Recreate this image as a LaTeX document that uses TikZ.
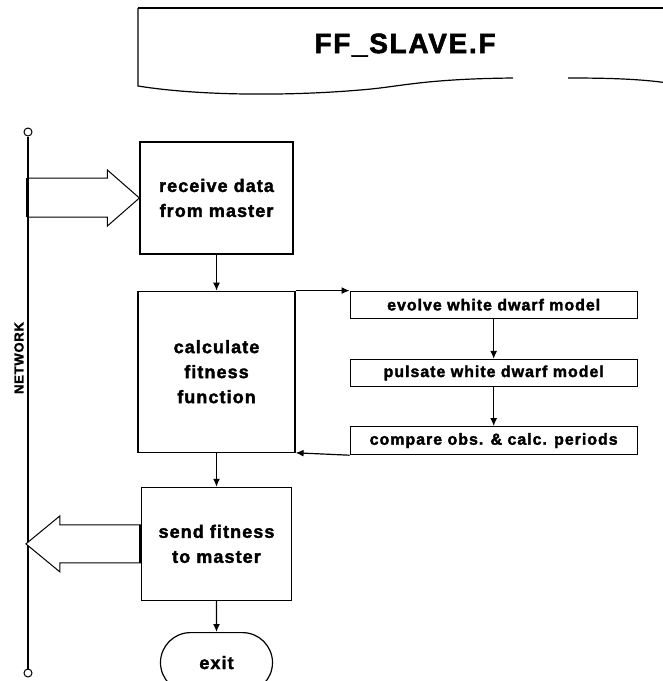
\documentclass[tikz,border=0pt]{standalone}
\usepackage{fontspec}
\setmainfont{Liberation Sans}[BoldFeatures={FakeBold=2, LetterSpace=6}]
\usetikzlibrary{arrows.meta,shapes.misc,positioning}

\begin{document}
\begin{tikzpicture}[
        x=1pt, y=-1pt,
        node distance=35pt and 54pt,
        every node/.style={font=\bfseries, align=center, inner sep=0pt},
        every path/.style={line width=1.2pt},
        process/.style={draw, font=\bfseries\fontsize{18}{25}\selectfont, minimum width=153pt, minimum height=112pt},
        subtask/.style={draw, font=\bfseries\fontsize{16}{20}\selectfont, minimum width=287pt, minimum height=27pt},
        terminal/.style={draw, rounded rectangle, font=\bfseries\fontsize{18}{25}\selectfont, minimum width=112pt, minimum height=60pt},
        flow/.style={-{Latex[length=8pt,width=7pt]}},
        bigarrow/.style={draw, line width=1pt, fill=white},
        netend/.style={draw, circle, line width=1pt, minimum size=8pt}
    ]
    \useasboundingbox (0,0) rectangle (663,681);

    % Document header
    \draw[line width=2.2pt] (138,8) -- (670,8);
    \draw (138,8) -- (138,86) .. controls (200,96) and (290,96) .. (360,90)
        .. controls (400,87) and (420,79) .. (513,78);
    \draw (568,78) .. controls (610,78) and (640,79) .. (668,83);
    \node[font=\bfseries\fontsize{28}{34}\selectfont] (title) at (405,45) {FF\_SLAVE.F};

    % Network
    \node[netend] (nettop) at (28,132) {};
    \node[netend] (netbot) at (28,673) {};
    \draw (nettop) -- (netbot);
    \node[rotate=90, font=\bfseries\fontsize{13}{16}\selectfont] (netlabel) at (19,358) {NETWORK};

    % Nodes
    \node[process] (recv) at (216.5,198) {receive data\\from master};
    \node[process, below=36pt of recv, minimum width=157pt, minimum height=161pt] (calc) {calculate\\fitness\\function};
    \node[process, below=34pt of calc, minimum width=150pt, minimum height=113pt] (send) {send fitness\\to master};
    \node[terminal, below=31pt of send] (exit) {exit};

    \node[subtask, right=54pt of calc.north east, anchor=north west] (evolve) {evolve white dwarf model};
    \node[subtask, below=40pt of evolve] (pulsate) {pulsate white dwarf model};
    \node[subtask, below=39pt of pulsate, minimum height=28pt] (compare) {compare obs. \& calc. periods};

    % Data in and out
    \draw[bigarrow] (recv.west) -- ++(-32,-28) -- ++(0,8) -- ++(-80,0) coordinate (inA)
        -- ++(0,39) coordinate (inB) -- ++(80,0) -- ++(0,9) -- cycle;
    \draw[line width=3pt] (inA) -- (inB);
    \draw[bigarrow] (send.west) ++(0,-19) coordinate (outA) -- ++(-81,0) -- ++(0,-9)
        -- ++(-34,28) -- ++(34,28) -- ++(0,-9) -- ++(81,0) coordinate (outB) -- cycle;
    \draw[line width=3pt] (outA) -- (outB);

    % Flow
    \draw[flow] (recv) -- (calc);
    \draw[flow] (calc) -- (send);
    \draw[flow] (send) -- (exit);
    \draw[flow] (calc.north east) -- (evolve.north west);
    \draw[flow] (evolve) -- (pulsate);
    \draw[flow] (pulsate) -- (compare);
    \draw[flow] (compare.south west) -- (calc.south east);

\end{tikzpicture}
\end{document}
